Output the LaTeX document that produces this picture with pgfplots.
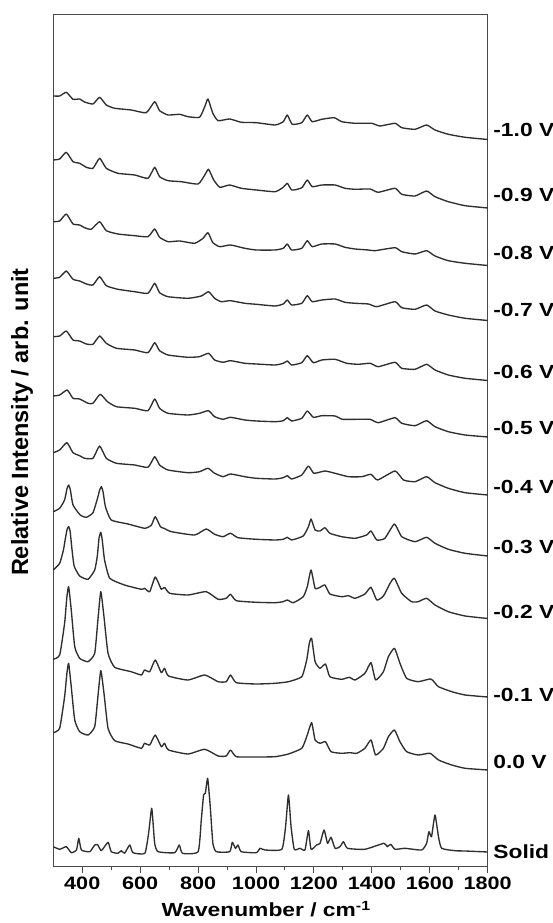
\documentclass[border=0pt]{standalone}
\usepackage{pgfplots}
\pgfplotsset{compat=1.18}
\usepackage{fontspec}
\setmainfont{Liberation Sans}
\newfontfamily\wide{Liberation Sans}[FakeStretch=1.2]
\definecolor{spec}{HTML}{2E2E2E}
\definecolor{frame}{HTML}{4A4A4A}
\tikzset{sp/.style={color=spec, solid, line width=1.35pt, line join=round, mark=none, smooth, tension=0.3}}
\begin{document}
\begin{tikzpicture}
\begin{axis}[
  scale only axis, width=434.4pt, height=851.7pt,
  xmin=300, xmax=1800, ymin=-866.7, ymax=-15,
  xtick={400,600,...,1800}, minor x tick num=1,
  ytick=\empty, xtick pos=bottom, tick align=outside,
  major tick length=6pt, minor tick length=3.5pt,
  axis line style={frame, line width=1pt},
  every tick/.style={frame, line width=1pt},
  /pgf/number format/assume math mode=true,
  /pgf/number format/1000 sep={},
  xticklabel style={font=\wide\fontsize{18}{20}\selectfont\bfseries, yshift=-1pt},
  xlabel={Wavenumber / cm\textsuperscript{-1}},
  xlabel style={font=\wide\fontsize{19}{23}\selectfont\bfseries, at={(axis description cs:0.49,0)}, anchor=base, yshift=-50pt, inner sep=0pt},
  ylabel={Relative Intensity / arb. unit},
  ylabel style={font=\fontsize{23.5}{27}\selectfont\bfseries, at={(axis description cs:-0.046,0.522)}, anchor=south, rotate=0, inner sep=0pt},
  clip=false,
]
% -1.0 V
\addplot[sp] coordinates {(300,-96)(322,-96)(345,-92.3)(368,-99.3)(391,-99)(408,-102)(437,-104)(460,-97.3)(483,-105)(512,-108.3)(569,-110)(621,-112.7)(650,-101.7)(667,-110.7)(696,-115)(736,-114.3)(765,-116.7)(805,-117.3)(823,-106.7)(834,-99)(851,-113.3)(869,-120.7)(909,-119)(949,-122.3)(1001,-122.7)(1066,-125)(1094,-121.7)(1108,-115)(1125,-124.3)(1158,-122.7)(1177,-115)(1194,-121.7)(1227,-119.3)(1270,-117.7)(1296,-121.7)(1342,-123.3)(1399,-123.3)(1428,-126)(1480,-123.3)(1503,-127.7)(1549,-129.3)(1589,-125)(1618,-130)(1664,-134.3)(1722,-137.3)(1800,-139.5)};
% -0.9 V
\addplot[sp] coordinates {(300,-160)(322,-159)(345,-152.3)(368,-161.7)(391,-163.3)(414,-167.3)(437,-168.3)(460,-158.3)(483,-168.3)(523,-173.3)(581,-175)(627,-178.3)(650,-167.3)(667,-176.7)(696,-180.7)(742,-181.7)(800,-184)(823,-175)(836,-169.3)(854,-180)(875,-187.3)(909,-185)(949,-188.3)(1001,-190)(1066,-191.7)(1094,-187.3)(1108,-183.3)(1123,-190)(1146,-189)(1160,-187.3)(1177,-180)(1194,-186.7)(1227,-185)(1273,-185)(1307,-188.3)(1342,-189.3)(1394,-189)(1422,-192.3)(1480,-188.3)(1503,-194.3)(1549,-196)(1589,-191)(1618,-196.7)(1664,-201.7)(1722,-205.7)(1800,-208)};
% -0.8 V
\addplot[sp] coordinates {(300,-221.7)(322,-221)(345,-214)(368,-224)(391,-225)(408,-227.7)(431,-229.3)(460,-221.7)(483,-230.7)(523,-234)(581,-235.7)(627,-236.7)(650,-229)(667,-237.3)(696,-241.7)(736,-241)(788,-243.3)(817,-238.3)(834,-232.7)(851,-242.7)(875,-246.7)(912,-245)(961,-248.3)(1001,-250)(1066,-250)(1094,-248.3)(1108,-244)(1123,-250)(1158,-248.3)(1177,-240.7)(1194,-246.7)(1227,-244)(1273,-244)(1307,-247.3)(1342,-249)(1388,-250)(1411,-250.7)(1480,-247.7)(1503,-251.7)(1549,-254)(1589,-250.7)(1618,-256)(1664,-260.7)(1722,-263.3)(1800,-265.5)};
% -0.7 V
\addplot[sp] coordinates {(300,-278.3)(322,-277.3)(345,-271)(368,-279.3)(391,-281)(414,-284)(437,-285)(460,-276.7)(483,-285.7)(523,-289.3)(581,-291.7)(627,-293.3)(650,-283.3)(667,-292.7)(696,-296.7)(765,-298.3)(811,-296)(836,-291.7)(857,-298.3)(880,-301.7)(912,-300.7)(961,-303.3)(1001,-304.3)(1066,-306)(1094,-304)(1108,-300)(1123,-305)(1158,-303.3)(1177,-295.7)(1194,-301.7)(1227,-300)(1273,-299)(1307,-302.3)(1342,-303.3)(1388,-304)(1417,-306.7)(1480,-301.7)(1503,-307.7)(1549,-309.3)(1589,-305)(1618,-311)(1664,-315)(1722,-318.3)(1800,-320.5)};
% -0.6 V
\addplot[sp] coordinates {(300,-336.7)(322,-336)(345,-331)(368,-340)(391,-341)(414,-344)(437,-344.3)(460,-336)(483,-343.3)(518,-348.3)(581,-350)(627,-352.7)(650,-342.7)(667,-350.7)(696,-355)(765,-357.3)(805,-356.7)(836,-353.3)(857,-360)(886,-362.3)(912,-360.7)(961,-363.3)(1001,-364)(1066,-365)(1094,-363.3)(1108,-361)(1123,-365)(1158,-362.7)(1177,-355.7)(1198,-362.7)(1227,-360)(1273,-359.3)(1313,-363.3)(1353,-364.3)(1394,-363.3)(1422,-366.7)(1480,-362.3)(1503,-368.3)(1549,-369.3)(1589,-364.3)(1618,-370)(1664,-375)(1722,-378.3)(1800,-380.5)};
% -0.5 V
\addplot[sp] coordinates {(300,-396)(322,-395)(348,-390)(368,-398.3)(391,-399)(420,-403.3)(437,-403.3)(462,-394.3)(487,-401.7)(518,-406.7)(581,-408.3)(627,-410.7)(650,-399)(667,-408.3)(696,-413.3)(765,-415)(805,-413.3)(836,-410.7)(857,-416.7)(886,-419.3)(912,-417.3)(961,-420)(1001,-421)(1066,-421.7)(1094,-420.7)(1108,-417.7)(1123,-421)(1158,-418.3)(1177,-411)(1198,-417.3)(1227,-415.7)(1273,-416)(1298,-419.3)(1353,-419.3)(1394,-419.3)(1422,-422.7)(1480,-417.7)(1503,-423.3)(1549,-425.7)(1589,-420.7)(1618,-426.7)(1664,-431.7)(1722,-435)(1800,-437)};
% -0.4 V
\addplot[sp] coordinates {(300,-452.7)(322,-450)(347,-442.7)(368,-452.7)(391,-455.7)(408,-458.3)(437,-458.3)(460,-446)(483,-458.3)(518,-463.3)(581,-465)(627,-467.3)(650,-456.7)(667,-465)(696,-470)(765,-472.7)(805,-471.7)(834,-468.3)(857,-473.3)(886,-476.7)(912,-474)(961,-476.7)(1001,-478.3)(1066,-479)(1094,-477.7)(1108,-475.7)(1123,-479)(1158,-475)(1181,-466)(1200,-473.3)(1238,-471)(1273,-473.3)(1319,-476.7)(1365,-476.7)(1397,-474.3)(1420,-480)(1480,-471)(1509,-480)(1549,-481.7)(1589,-476.7)(1618,-482.7)(1664,-488.3)(1722,-492.7)(1800,-495)};
% -0.3 V
\addplot[sp] coordinates {(300,-511.7)(322,-508.3)(339,-500)(347,-489)(353,-485)(359,-490)(368,-505)(393,-515)(414,-517.3)(437,-512.7)(454,-497)(460,-490)(466,-486.7)(472,-492)(480,-506.7)(500,-520)(558,-524)(616,-528.3)(639,-525)(652,-516.7)(670,-526.7)(682,-528.3)(708,-531.7)(788,-535)(828,-529)(857,-534.3)(886,-536.7)(912,-533.3)(938,-537.7)(1001,-539.3)(1066,-540)(1094,-539.3)(1108,-537.3)(1123,-540)(1163,-536)(1181,-526.7)(1190,-519)(1204,-530)(1221,-531)(1238,-527.7)(1255,-533.3)(1296,-536.7)(1342,-538.3)(1382,-535)(1397,-531)(1417,-540)(1445,-538.3)(1478,-524)(1503,-536.7)(1549,-541.7)(1589,-537.3)(1618,-543.3)(1664,-549.3)(1722,-553.3)(1800,-556)};
% -0.2 V
\addplot[sp] coordinates {(300,-570)(322,-563.3)(335,-550)(342,-538)(348,-529)(353,-526.7)(358,-531)(364,-548)(372,-566)(391,-576)(420,-579.3)(443,-570)(452,-556)(458,-538)(464,-532.3)(469,-540)(477,-560)(495,-578.3)(546,-585)(604,-589.3)(615,-588.3)(633,-591.7)(652,-577)(673,-589.3)(684,-587.3)(702,-593.3)(765,-595)(828,-591.7)(869,-599.3)(897,-598.3)(912,-594.3)(932,-600.7)(1001,-602.3)(1066,-602.7)(1094,-601.7)(1108,-600)(1129,-602.7)(1163,-596.7)(1177,-586.7)(1190,-570)(1204,-588.3)(1221,-587.3)(1238,-585)(1255,-594)(1296,-596.7)(1319,-595.7)(1342,-598.3)(1376,-594)(1397,-587.3)(1417,-600)(1440,-596)(1463,-583.3)(1478,-578.3)(1503,-593.3)(1537,-601.7)(1560,-601.7)(1589,-598.3)(1618,-605)(1664,-611.7)(1722,-616)(1800,-618.5)};
% -0.1 V
\addplot[sp] coordinates {(300,-659.3)(322,-655)(339,-623.3)(347,-596.7)(353,-586.7)(362,-610)(374,-646.7)(391,-658.3)(420,-661.7)(443,-653.3)(454,-620)(464,-591.7)(475,-616.7)(489,-653.3)(512,-667.3)(569,-671.7)(604,-675)(615,-670)(633,-671.7)(652,-660)(673,-672.7)(684,-668.3)(698,-676)(765,-680)(823,-675)(869,-681.7)(897,-681.7)(912,-675)(932,-682.7)(1001,-684)(1066,-683.3)(1112,-681.7)(1158,-676.7)(1175,-660)(1184,-643.3)(1192,-638.3)(1204,-661.7)(1221,-668.3)(1240,-664)(1255,-676.7)(1296,-679.3)(1322,-677.3)(1342,-680)(1376,-673.3)(1397,-662.7)(1413,-680)(1440,-671.7)(1457,-656.7)(1478,-648.3)(1497,-663.3)(1520,-678.3)(1560,-681.7)(1604,-679)(1630,-686.7)(1676,-691.7)(1722,-695)(1800,-697)};
% 0.0 V
\addplot[sp] coordinates {(300,-732.7)(322,-728.3)(339,-696.7)(347,-673.3)(353,-663.3)(362,-686.7)(374,-720)(391,-731.7)(420,-735)(443,-726.7)(454,-696.7)(464,-670.7)(475,-693.3)(489,-728.3)(512,-740.7)(558,-744)(604,-748.3)(615,-743.3)(633,-745)(652,-735)(673,-746.7)(684,-743.3)(698,-750)(765,-754)(823,-749.3)(869,-756)(897,-756)(912,-750)(932,-756.7)(1001,-757)(1066,-756.7)(1112,-754)(1158,-748.3)(1175,-736.7)(1192,-722.7)(1204,-740)(1221,-743.3)(1240,-741.7)(1259,-751.7)(1296,-753.3)(1324,-752.7)(1348,-753.3)(1376,-748.3)(1397,-740)(1413,-755)(1440,-748.3)(1457,-736.7)(1478,-730)(1497,-741.7)(1520,-751.7)(1560,-755)(1601,-753.3)(1630,-760)(1676,-765)(1722,-768.3)(1800,-770)};
% Solid
\addplot[sp] coordinates {(300,-846.7)(322,-849.3)(345,-846.7)(362,-852.7)(380,-850)(388,-838.3)(397,-850)(426,-851.7)(443,-845)(454,-845)(466,-850.7)(489,-842.3)(500,-851.7)(523,-853.3)(535,-850.7)(546,-853.3)(564,-845)(575,-852.7)(616,-853.3)(629,-833.3)(640,-808.3)(650,-843.3)(662,-851.7)(719,-852.7)(735,-845)(746,-853.3)(800,-851.7)(811,-820)(819,-795)(825,-793.3)(833,-778.3)(842,-806.7)(851,-843.3)(863,-851.7)(909,-851.7)(918,-842.3)(929,-848.3)(938,-845)(949,-851.7)(1001,-852.7)(1014,-848.3)(1031,-850)(1089,-849.3)(1102,-826.7)(1112,-795)(1121,-826.7)(1132,-849.3)(1152,-848.3)(1169,-850)(1181,-830.7)(1190,-849.3)(1209,-845)(1221,-843.3)(1235,-830)(1247,-843.3)(1259,-837.3)(1273,-848.3)(1290,-846.7)(1302,-841.7)(1316,-848.3)(1376,-849.3)(1442,-843.3)(1453,-846.7)(1465,-844.3)(1480,-849.3)(1514,-848.3)(1572,-850)(1589,-843.3)(1597,-831.7)(1606,-836.7)(1618,-815)(1630,-836.7)(1641,-848.3)(1687,-850.7)(1722,-851)(1800,-852)};
\coordinate (SW) at (axis cs:300,-866.7);
\begin{scope}[every node/.style={anchor=west, inner sep=0pt, xshift=5.5pt, font=\wide\fontsize{19}{22}\selectfont\bfseries}]
\node at (axis cs:1800,-130) {-1.0 V};
\node at (axis cs:1800,-195) {-0.9 V};
\node at (axis cs:1800,-253) {-0.8 V};
\node at (axis cs:1800,-310) {-0.7 V};
\node at (axis cs:1800,-372) {-0.6 V};
\node at (axis cs:1800,-428) {-0.5 V};
\node at (axis cs:1800,-487) {-0.4 V};
\node at (axis cs:1800,-547) {-0.3 V};
\node at (axis cs:1800,-612) {-0.2 V};
\node at (axis cs:1800,-695) {-0.1 V};
\node at (axis cs:1800,-762) {0.0 V};
\node at (axis cs:1800,-852) {Solid};
\end{scope}
\end{axis}
\pgfresetboundingbox
\path (SW) ++(-53.3pt,-56.3pt) rectangle ++(553pt,923pt);
\end{tikzpicture}
\end{document}
